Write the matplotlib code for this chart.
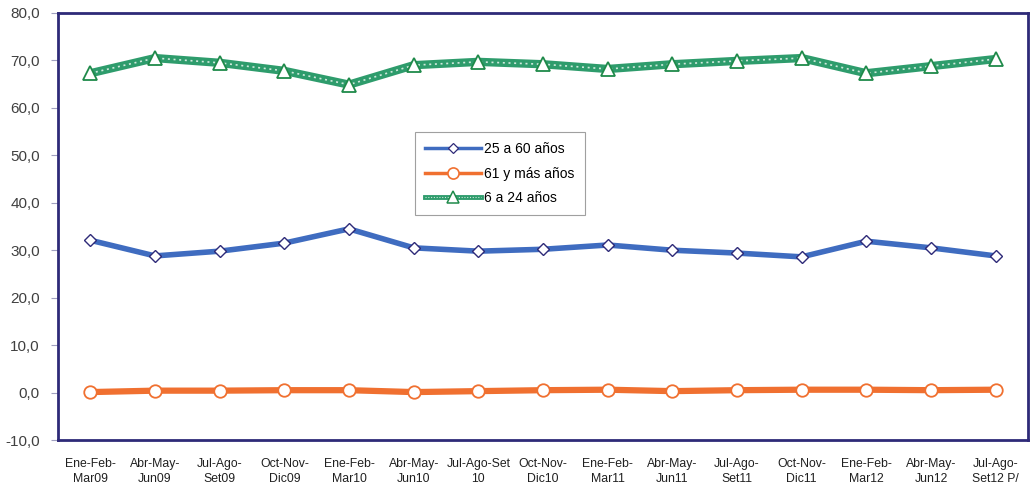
import matplotlib
matplotlib.use("Agg")
import matplotlib.pyplot as plt
from matplotlib.lines import Line2D

plt.rcParams['font.family'] = ['Liberation Sans Narrow', 'Liberation Sans', 'DejaVu Sans']

categories = ["Ene-Feb-\nMar09", "Abr-May-\nJun09", "Jul-Ago-\nSet09", "Oct-Nov-\nDic09",
              "Ene-Feb-\nMar10", "Abr-May-\nJun10", "Jul-Ago-Set\n10", "Oct-Nov-\nDic10",
              "Ene-Feb-\nMar11", "Abr-May-\nJun11", "Jul-Ago-\nSet11", "Oct-Nov-\nDic11",
              "Ene-Feb-\nMar12", "Abr-May-\nJun12", "Jul-Ago-\nSet12 P/"]
s25_60 = [32.1, 28.8, 29.8, 31.5, 34.5, 30.5, 29.8, 30.2, 31.1, 30.0, 29.4, 28.6, 31.9, 30.5, 28.8]
s61 = [0.1, 0.4, 0.4, 0.5, 0.5, 0.1, 0.3, 0.5, 0.6, 0.3, 0.5, 0.6, 0.6, 0.5, 0.6]
s6_24 = [67.3, 70.5, 69.5, 67.8, 64.9, 69.0, 69.7, 69.2, 68.2, 69.2, 69.9, 70.5, 67.3, 68.8, 70.3]
yticks = [-10, 0, 10, 20, 30, 40, 50, 60, 70, 80]

blue = '#3f6cc0'
orange = '#f07030'
green = '#2e9c6c'
navy = '#2e2a78'

fig = plt.figure(figsize=(10.31, 4.88), dpi=100)
ax = fig.add_axes([58/1031, 1 - 440/488, 970/1031, 427/488])

x = list(range(len(categories)))

ax.plot(x, s25_60, color=blue, lw=4, marker='D', ms=6.5, mfc='white', mec=navy, mew=1.0, zorder=3)
ax.plot(x, s61, color=orange, lw=4.5, marker='o', ms=9, mfc='white', mec=orange, mew=1.3, zorder=3)
ax.plot(x, s6_24, color=green, lw=6, zorder=3, solid_capstyle='butt')
ax.plot(x, s6_24, color='#cfe9dc', lw=1.2, ls=(0, (1.2, 2.2)), zorder=3.1)
ax.plot(x, s6_24, ls='none', marker='^', ms=10, mfc='white', mec='#1f8a4a', mew=1.3, zorder=3.2)

ax.set_xlim(-0.5, len(categories) - 0.5)
ax.set_ylim(-10, 80)
ax.set_yticks(yticks)
ax.set_yticklabels([f"{v:.1f}".replace('.', ',') for v in yticks], fontsize=11, color='#404040')
ax.set_xticks(x)
ax.set_xticklabels(categories, fontsize=8.8, color='#202020', linespacing=1.3)
ax.tick_params(axis='x', length=0, pad=13)
ax.tick_params(axis='y', length=5, color='#a0a0c0', width=0.8, pad=8)
for sp in ax.spines.values():
    sp.set_color(navy)
    sp.set_linewidth(2)

h1 = Line2D([], [], color=blue, lw=2.5, marker='D', ms=5, mfc='white', mec=navy, mew=0.9)
h2 = Line2D([], [], color=orange, lw=2.5, marker='o', ms=8, mfc='white', mec=orange, mew=1.2)
h3a = Line2D([], [], color=green, lw=3.5)
h3b = Line2D([], [], color='#cfe9dc', lw=0.8, ls=(0, (1, 1.5)))
h3c = Line2D([], [], ls='none', marker='^', ms=8, mfc='white', mec='#1f8a4a', mew=1.1)
leg = ax.legend([h1, h2, (h3a, h3b, h3c)], ["25 a 60 años", "61 y más años", "6 a 24 años"],
                loc='upper left', bbox_to_anchor=(0.368, 0.722), fontsize=10,
                frameon=True, fancybox=False, edgecolor='#a0a0a0', framealpha=1,
                handlelength=4.0, borderpad=0.75, labelspacing=0.75, handletextpad=0.2,
                borderaxespad=0)
leg.get_frame().set_linewidth(0.8)

fig.savefig('out.png', dpi=100)
